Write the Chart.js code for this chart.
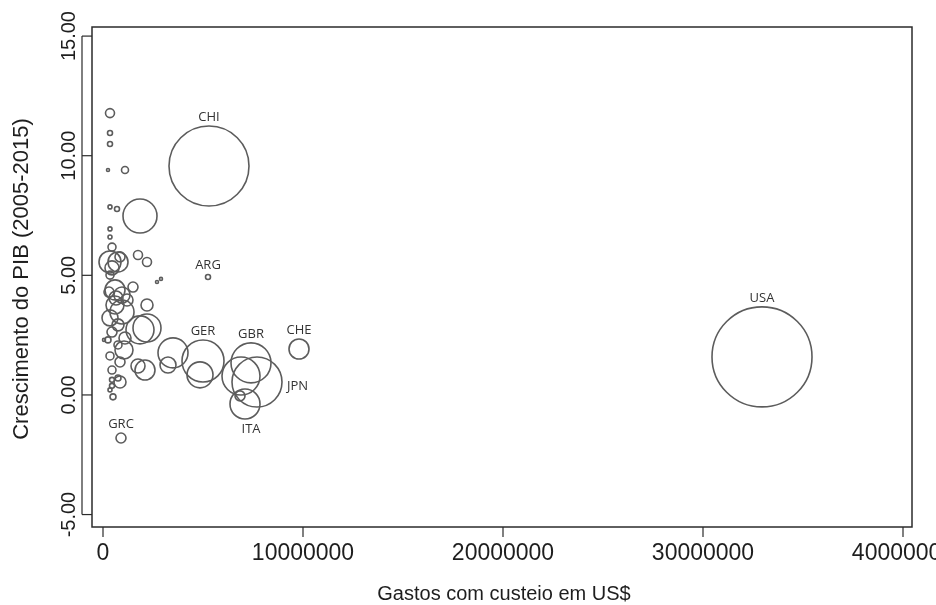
<!DOCTYPE html>
<html>
<head>
<meta charset="utf-8">
<script src="https://cdn.jsdelivr.net/npm/chart.js@4.4.1/dist/chart.umd.min.js"></script>
<style>
  body { margin: 0; background: #fff; }
</style>
</head>
<body>
<canvas id="grafico" width="936" height="605"></canvas>
<script>
// gastos com custeio (US$), crescimento do PIB 2005-2015 (%), raio da bolha
var gastos = [
  350000, 350000, 350000, 250000, 1100000, 350000, 700000, 1850000, 350000, 350000,
  450000, 350000, 750000, 450000, 850000, 1750000, 2200000, 2700000, 2900000, 5250000,
  350000, 600000, 950000, 1500000, 2200000, 600000, 950000, 350000, 1200000, 750000,
  1850000, 2200000, 450000, 1100000, 250000, 750000, 1050000, 350000, 1750000, 2100000,
  850000, 450000, 750000, 850000, 450000, 500000, 900000, 3500000, 3250000, 5000000,
  4850000, 7400000, 6900000, 7700000, 7100000, 6850000, 9800000, 5300000, 32950000, 50000,
  350000, 450000, 650000, 300000
];
var crescimento = [
  11.78, 10.95, 10.49, 9.40, 9.40, 7.86, 7.77, 7.48, 6.94, 6.60,
  6.18, 5.56, 5.56, 5.31, 5.77, 5.85, 5.56, 4.72, 4.85, 4.93,
  5.01, 4.39, 4.18, 4.51, 3.76, 3.76, 3.47, 3.22, 3.97, 2.93,
  2.72, 2.80, 2.63, 2.38, 2.30, 2.09, 1.88, 1.63, 1.21, 1.04,
  1.38, 1.04, 0.71, 0.54, 0.38, -0.08, -1.80, 1.76, 1.25, 1.42,
  0.84, 1.34, 0.79, 0.54, -0.38, -0.04, 1.92, 9.57, 1.59, 2.30,
  0.21, 0.63, 4.05, 4.30
];
var raio = [
  4.5, 2.5, 2.5, 1.5, 3.5, 2, 2.5, 17, 2, 2,
  4, 11, 10, 7, 5, 4.5, 4.5, 1.5, 1.5, 2.5,
  4, 10, 8, 5, 6, 9, 12, 8, 6, 6,
  14, 14, 5, 6, 3, 4, 9, 4, 7, 10,
  5, 4, 3, 6, 2.5, 3, 5, 15, 8, 21,
  13, 20, 19, 25, 15, 5, 10, 40, 50, 1.5,
  2, 2.5, 7, 5
];
var siglas = [
  '', '', '', '', '', '', '', '', '', '',
  '', '', '', '', '', '', '', '', '', 'ARG',
  '', '', '', '', '', '', '', '', '', '',
  '', '', '', '', '', '', '', '', '', '',
  '', '', '', '', '', '', 'GRC', '', '', 'GER',
  '', 'GBR', '', 'JPN', 'ITA', '', 'CHE', 'CHI', 'USA', '',
  '', '', '', ''
];
var ticksX = [0, 10000000, 20000000, 30000000, 40000000];
var ticksY = [-5, 0, 5, 10, 15];

// onde fica o rótulo em relação à bolha
var ladoRotulo = { JPN: 'direita', ITA: 'abaixo' };

var pontos = gastos.map(function (g, i) {
  return { x: g, y: crescimento[i], r: raio[i] };
});

const fundoBranco = {
  id: 'fundo_branco',
  beforeDraw: (chart) => {
    const {ctx} = chart;
    ctx.save();
    ctx.fillStyle = '#ffffff';
    ctx.fillRect(0, 0, chart.width, chart.height);
    ctx.restore();
  }
};

const eixosR = {
  id: 'eixos_estilo_r',
  afterDraw: (chart) => {
    const {ctx, chartArea} = chart;
    const sx = chart.scales.x, sy = chart.scales.y;
    ctx.save();

    // caixa do gráfico
    ctx.strokeStyle = '#2b2b2b';
    ctx.lineWidth = 1.5;
    ctx.strokeRect(chartArea.left, chartArea.top,
                   chartArea.right - chartArea.left, chartArea.bottom - chartArea.top);

    // eixo x
    ctx.lineWidth = 1.2;
    ctx.fillStyle = '#1e1e1e';
    ctx.font = '23px "Liberation Sans", Arial, sans-serif';
    ctx.textAlign = 'center';
    ctx.textBaseline = 'middle';
    ticksX.forEach(function (t) {
      var px = sx.getPixelForValue(t);
      ctx.beginPath();
      ctx.moveTo(px, chartArea.bottom);
      ctx.lineTo(px, chartArea.bottom + 10);
      ctx.stroke();
      ctx.fillText(String(t), px, chartArea.bottom + 27);
    });

    // eixo y
    ctx.font = '20px "Liberation Sans", Arial, sans-serif';
    var yTop = sy.getPixelForValue(ticksY[ticksY.length - 1]);
    var yBot = sy.getPixelForValue(ticksY[0]);
    var xAx = chartArea.left - 10;
    ctx.beginPath();
    ctx.moveTo(xAx, yTop);
    ctx.lineTo(xAx, yBot);
    ctx.stroke();
    ticksY.forEach(function (t) {
      var py = sy.getPixelForValue(t);
      ctx.beginPath();
      ctx.moveTo(xAx, py);
      ctx.lineTo(chartArea.left, py);
      ctx.stroke();
      ctx.save();
      ctx.translate(chartArea.left - 23, py);
      ctx.rotate(-Math.PI / 2);
      ctx.fillText(t.toFixed(2), 0, 0);
      ctx.restore();
    });

    // títulos dos eixos
    ctx.fillText('Gastos com custeio em US$', (chartArea.left + chartArea.right) / 2 + 2, 594);
    ctx.font = '22px "Liberation Sans", Arial, sans-serif';
    ctx.save();
    ctx.translate(22, (chartArea.top + chartArea.bottom) / 2 + 2);
    ctx.rotate(-Math.PI / 2);
    ctx.fillText('Crescimento do PIB (2005-2015)', 0, 0);
    ctx.restore();

    // siglas dos países
    ctx.font = '13px "Open Sans", sans-serif';
    ctx.fillStyle = '#333333';
    siglas.forEach(function (s, i) {
      if (!s) return;
      var px = sx.getPixelForValue(gastos[i]);
      var py = sy.getPixelForValue(crescimento[i]);
      var lado = ladoRotulo[s] || 'acima';
      if (lado === 'direita') {
        ctx.textAlign = 'left';
        ctx.fillText(s, px + raio[i] + 5, py + 4);
      } else if (lado === 'abaixo') {
        ctx.textAlign = 'center';
        ctx.fillText(s, px + 6, py + raio[i] + 10);
      } else {
        ctx.textAlign = 'center';
        ctx.fillText(s, px, py - raio[i] - 9);
      }
    });

    ctx.restore();
  }
};

new Chart("grafico", {
  type: "bubble",
  plugins: [fundoBranco, eixosR],
  data: {
    datasets: [{
      data: pontos,
      backgroundColor: 'rgba(0,0,0,0)',
      borderColor: '#5c5c5c',
      borderWidth: 1.6,
      hoverBorderWidth: 1.6
    }]
  },
  options: {
    responsive: false,
    animation: false,
    events: [],
    layout: { autoPadding: false, padding: { left: 92, top: 27, right: 24, bottom: 78 } },
    plugins: {
      legend: { display: false },
      tooltip: { enabled: false }
    },
    scales: {
      x: { type: 'linear', min: -550000, max: 40450000, display: false },
      y: { type: 'linear', min: -5.52, max: 15.38, display: false }
    }
  }
});
</script>
</body>
</html>
